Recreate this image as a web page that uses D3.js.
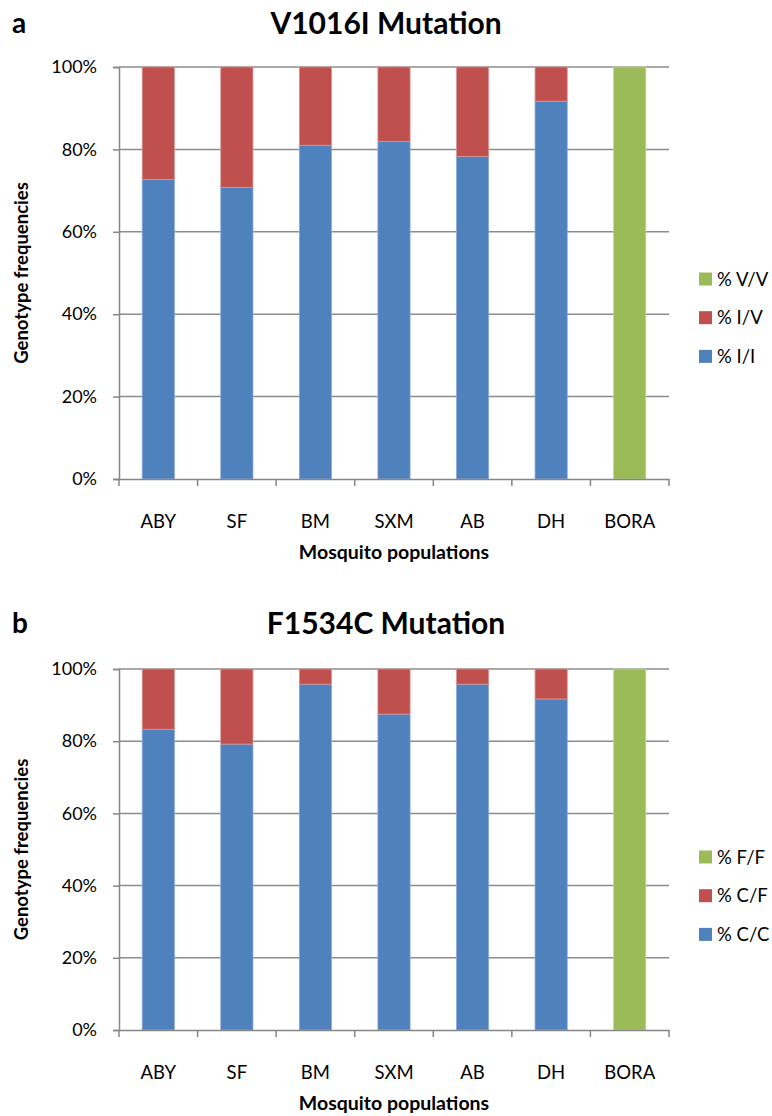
<!DOCTYPE html>
<html><head><meta charset="utf-8">
<script src="https://cdn.jsdelivr.net/npm/d3@7/dist/d3.min.js"></script>
<style>
body{margin:0;background:#fff;}
text{font-family:Lato,"Open Sans",sans-serif;fill:#000;}
</style></head>
<body>
<script>
const categories = ["ABY","SF","BM","SXM","AB","DH","BORA"];
const yTicks = [0,20,40,60,80,100];
const yTickLabels = ["0%","20%","40%","60%","80%","100%"];

// Chart a: V1016I
const aTitle = "V1016I Mutation";
const aSeriesNames = ["% I/I","% I/V","% V/V"];
const aII = [72.7,70.8,81.0,81.9,78.3,91.7,0];
const aIV = [27.3,29.2,19.0,18.1,21.7,8.3,0];
const aVV = [0,0,0,0,0,0,100];

// Chart b: F1534C
const bTitle = "F1534C Mutation";
const bSeriesNames = ["% C/C","% C/F","% F/F"];
const bCC = [83.3,79.2,95.8,87.5,95.8,91.7,0];
const bCF = [16.7,20.8,4.2,12.5,4.2,8.3,0];
const bFF = [0,0,0,0,0,0,100];

const colors = ["#4F81BD","#C0504D","#9BBB59"];
const edge = ["#8EAADB","#D99694","#C3D69B"];

const W = 772, H = 1116;
const X0 = 119, X1 = 669;
const svg = d3.select("body").append("svg").attr("width",W).attr("height",H);

function drawChart(o){
  const g = svg.append("g");
  const x = d3.scaleBand().domain(categories).range([X0,X1]).paddingInner(0.59).paddingOuter(0.295);
  const xb = d3.scaleBand().domain(categories).range([X0,X1]);
  const y = d3.scaleLinear().domain([0,100]).range([o.bottom,o.top]);

  // gridlines
  g.selectAll(".grid").data(yTicks.filter(t=>t>0)).join("line")
    .attr("x1",X0).attr("x2",X1).attr("y1",d=>y(d)).attr("y2",d=>y(d))
    .attr("stroke","#8c8c8c").attr("stroke-width",1.5);

  // stacked bars
  const rows = categories.map((c,i)=>({cat:c, s0:o.series[0][i], s1:o.series[1][i], s2:o.series[2][i]}));
  const stack = d3.stack().keys(["s0","s1","s2"])(rows);
  stack.forEach((layer,k)=>{
    g.selectAll(".l"+k).data(layer.filter(d=>d[1]-d[0]>0)).join("rect")
      .attr("x",d=>x(d.data.cat)).attr("width",x.bandwidth())
      .attr("y",d=>y(d[1])).attr("height",d=>y(d[0])-y(d[1]))
      .attr("fill",colors[k]).attr("stroke",edge[k]).attr("stroke-width",0.8);
  });

  // y axis
  const ya = d3.axisLeft(y).tickValues(yTicks).tickFormat((d,i)=>yTickLabels[i]).tickSize(6).tickPadding(16);
  const yg = g.append("g").attr("transform",`translate(${X0},0)`).call(ya);
  yg.select(".domain").attr("stroke","#868686").attr("stroke-width",1.5);
  yg.selectAll(".tick line").attr("stroke","#868686").attr("stroke-width",1.5);
  yg.selectAll(".tick text").attr("font-size",18).attr("font-family","Lato,sans-serif").attr("fill","#000");

  // x axis
  const xa = d3.axisBottom(xb).tickSize(0).tickPadding(36);
  const xg = g.append("g").attr("transform",`translate(0,${o.bottom})`).call(xa);
  xg.select(".domain").attr("stroke","#868686").attr("stroke-width",1.5);
  xg.selectAll(".tick text").attr("font-size",18.5).attr("font-family","Lato,sans-serif").attr("fill","#000");
  // boundary ticks
  const bounds = categories.map(c=>xb(c)).concat([X1]);
  xg.selectAll(".bt").data(bounds).join("line")
    .attr("x1",d=>d).attr("x2",d=>d).attr("y1",0).attr("y2",7)
    .attr("stroke","#868686").attr("stroke-width",1.5);

  // titles
  g.append("text").attr("x",386).attr("y",o.titleY).attr("text-anchor","middle")
    .attr("font-size",30).attr("font-weight","bold").text(o.title);
  g.append("text").attr("x",12).attr("y",o.titleY-1).attr("font-size",28).attr("font-weight","bold").text(o.letter);
  g.append("text").attr("x",394).attr("y",o.bottom+80).attr("text-anchor","middle")
    .attr("font-size",19.5).attr("font-weight","bold").text("Mosquito populations");
  g.append("text").attr("transform",`translate(28,${(o.top+o.bottom)/2}) rotate(-90)`)
    .attr("text-anchor","middle").attr("font-size",18.5).attr("font-weight","bold").text("Genotype frequencies");

  // legend
  const leg = [2,1,0];
  leg.forEach((k,j)=>{
    const ly = o.legY + j*38.7;
    g.append("rect").attr("x",699).attr("y",ly-6.5).attr("width",13).attr("height",13).attr("fill",colors[k]);
    g.append("text").attr("x",717).attr("y",ly+6.5).attr("font-size",18.5).text(o.names[k]);
  });
}

drawChart({top:67,bottom:479,title:aTitle,letter:"a",titleY:34,series:[aII,aIV,aVV],names:aSeriesNames,legY:279});
drawChart({top:669,bottom:1030,title:bTitle,letter:"b",titleY:634,series:[bCC,bCF,bFF],names:bSeriesNames,legY:857});
</script>
</body></html>
